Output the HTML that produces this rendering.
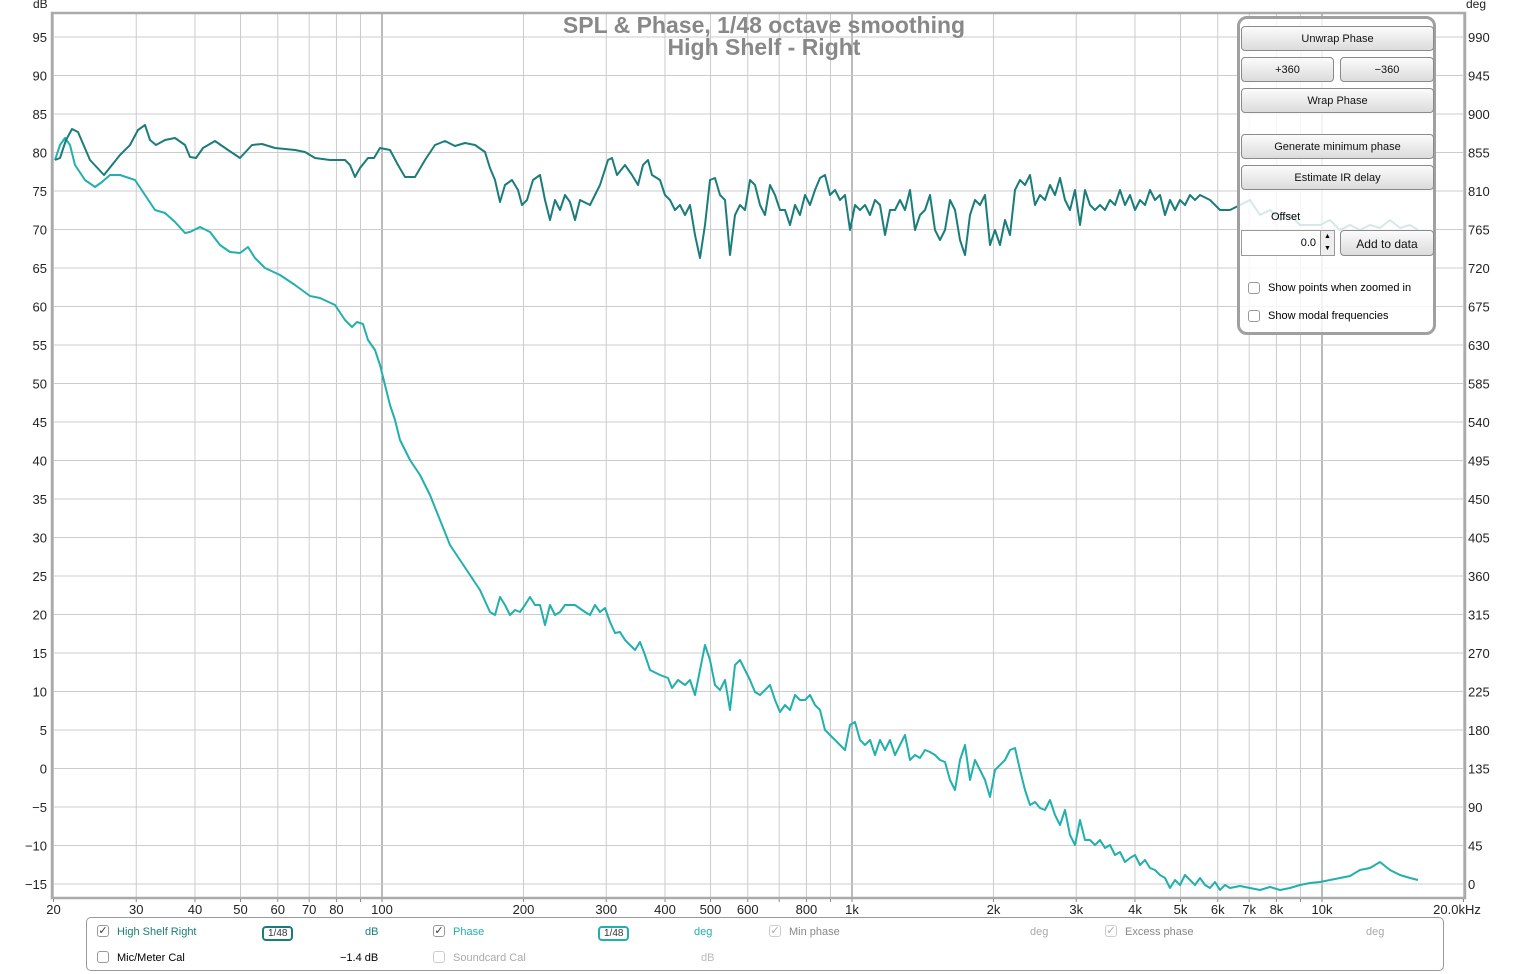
<!DOCTYPE html>
<html><head><meta charset="utf-8"><style>
body{margin:0;background:#fff;width:1530px;height:974px;overflow:hidden;font-family:"Liberation Sans",sans-serif;}
svg text{font-family:"Liberation Sans",sans-serif;}
.btn{position:absolute;background:linear-gradient(#fbfbfb,#dcdcdc);border:1px solid #8a8a8a;border-radius:4px;font-size:11px;text-align:center;color:#111;box-sizing:border-box;}
.cb{position:absolute;width:12px;height:12px;border:1px solid #999;border-radius:3px;background:#fff;box-sizing:border-box;font-size:11px;line-height:10px;text-align:center;color:#333}
.lt{position:absolute;font-size:11px;}
</style></head><body>
<svg id="s" width="1530" height="974" style="position:absolute;left:0;top:0"></svg>
<div style="position:absolute;left:1237px;top:16px;width:199px;height:319px;border:3px solid #a0a0a0;border-radius:10px;background:rgba(255,255,255,0.82);box-sizing:border-box"></div>
<div class="btn" style="left:1241px;top:26px;width:193px;height:25px;line-height:25px">Unwrap Phase</div>
<div class="btn" style="left:1241px;top:57px;width:93px;height:25px;line-height:25px">+360</div>
<div class="btn" style="left:1340px;top:57px;width:94px;height:25px;line-height:25px">−360</div>
<div class="btn" style="left:1241px;top:88px;width:193px;height:25px;line-height:25px">Wrap Phase</div>
<div class="btn" style="left:1241px;top:134px;width:193px;height:25px;line-height:25px">Generate minimum phase</div>
<div class="btn" style="left:1241px;top:165px;width:193px;height:25px;line-height:25px">Estimate IR delay</div>
<div class="lt" style="left:1271px;top:211px">Offset</div>
<div style="position:absolute;left:1241px;top:230px;width:94px;height:26px;border:1px solid #999;background:#fff;box-sizing:border-box;font-size:11px;line-height:24px;text-align:right;padding-right:18px">0.0</div>
<div style="position:absolute;left:1320px;top:230px;width:15px;height:26px;border:1px solid #999;background:#eee;box-sizing:border-box;font-size:7px;text-align:center;line-height:12px">▲<br>▼</div>
<div class="btn" style="left:1340px;top:230px;width:94px;height:26px;line-height:26px;font-size:12px">Add to data</div>
<div class="cb" style="left:1248px;top:282px"></div><div class="lt" style="left:1268px;top:282px">Show points when zoomed in</div>
<div class="cb" style="left:1248px;top:310px"></div><div class="lt" style="left:1268px;top:310px">Show modal frequencies</div>
<div style="position:absolute;left:86px;top:917px;width:1358px;height:54px;border:1px solid #999;border-radius:5px;box-sizing:border-box"></div>
<div class="cb" style="left:97px;top:925px">✓</div><div class="lt" style="left:117px;top:926px;color:#1a7d7a">High Shelf Right</div>
<div class="lt" style="left:262px;top:926px;border:2px solid #1a7d7a;border-radius:4px;padding:0 4px;font-size:10px;color:#333">1/48</div>
<div class="lt" style="left:365px;top:926px;color:#1a7d7a">dB</div>
<div class="cb" style="left:433px;top:925px">✓</div><div class="lt" style="left:453px;top:926px;color:#22b0ad">Phase</div>
<div class="lt" style="left:598px;top:926px;border:2px solid #22b0ad;border-radius:4px;padding:0 4px;font-size:10px;color:#333">1/48</div>
<div class="lt" style="left:694px;top:926px;color:#22b0ad">deg</div>
<div class="cb" style="left:769px;top:925px;color:#aaa;border-color:#ccc">✓</div><div class="lt" style="left:789px;top:926px;color:#888">Min phase</div>
<div class="lt" style="left:1030px;top:926px;color:#aaa">deg</div>
<div class="cb" style="left:1105px;top:925px;color:#aaa;border-color:#ccc">✓</div><div class="lt" style="left:1125px;top:926px;color:#888">Excess phase</div>
<div class="lt" style="left:1366px;top:926px;color:#aaa">deg</div>
<div class="cb" style="left:97px;top:951px"></div><div class="lt" style="left:117px;top:952px">Mic/Meter Cal</div>
<div class="lt" style="left:340px;top:952px">−1.4 dB</div>
<div class="cb" style="left:433px;top:951px;border-color:#ccc"></div><div class="lt" style="left:453px;top:952px;color:#aaa">Soundcard Cal</div>
<div class="lt" style="left:701px;top:952px;color:#bbb">dB</div>
<script>
var s=document.getElementById('s'),h='';
function X(f){return 852+470*Math.log10(f/1000);}
function Y(d){return 884-(d+15)*847/110;}
var L=52,R=1465,T=13,B=898;
h+='<rect x="'+L+'" y="'+T+'" width="'+(R-L)+'" height="'+(B-T)+'" fill="#fff"/>';
var fs=[];for(var d=10;d<=10000;d*=10)for(var k=1;k<10;k++){var f=d*k;if(f>=20&&f<=20000)fs.push(f);}fs.push(20000);
fs.forEach(function(f){var x=X(f),dk=(f==100||f==1000||f==10000);h+='<line x1="'+x+'" x2="'+x+'" y1="'+T+'" y2="'+B+'" stroke="'+(dk?'#777':'#ccc')+'" stroke-width="1"/>';h+='<line x1="'+x+'" x2="'+x+'" y1="'+B+'" y2="'+(B+4)+'" stroke="#888"/>';});
for(var v=-15;v<=95;v+=5){var y=Y(v);h+='<line x1="'+L+'" x2="'+R+'" y1="'+y+'" y2="'+y+'" stroke="#ccc"/>';
h+='<text x="47" y="'+(y+5)+'" font-size="13" text-anchor="end" fill="#222">'+(v<0?'−'+(-v):v)+'</text>';
h+='<text x="1468" y="'+(y+5)+'" font-size="13" fill="#222">'+((v+15)*9)+'</text>';}
h+='<text x="33" y="8" font-size="12" fill="#222">dB</text><text x="1466" y="8" font-size="12" fill="#222">deg</text>';
h+='<rect x="'+L+'" y="'+T+'" width="'+(R-L)+'" height="'+(B-T)+'" fill="none" stroke="#aaa" stroke-width="2.5"/>';
[[20,'20'],[30,'30'],[40,'40'],[50,'50'],[60,'60'],[70,'70'],[80,'80'],[100,'100'],[200,'200'],[300,'300'],[400,'400'],[500,'500'],[600,'600'],[800,'800'],[1000,'1k'],[2000,'2k'],[3000,'3k'],[4000,'4k'],[5000,'5k'],[6000,'6k'],[7000,'7k'],[8000,'8k'],[10000,'10k']].forEach(function(a){h+='<text x="'+X(a[0])+'" y="914" font-size="13" text-anchor="middle" fill="#222">'+a[1]+'</text>';});
h+='<text x="1457" y="914" font-size="13" text-anchor="middle" fill="#222">20.0kHz</text>';
h+='<text x="764" y="33" font-size="23" font-weight="bold" text-anchor="middle" fill="#888">SPL &amp; Phase, 1/48 octave smoothing</text>';
h+='<text x="764" y="55" font-size="23" font-weight="bold" text-anchor="middle" fill="#888">High Shelf - Right</text>';
var spl="55,160 60,158 66,140 72,129 78,132 90,160 104,175 112,165 120,155 130,145 138,130 145,125 150,140 156,145 165,140 175,138 185,145 190,157 196,158 203,148 215,141 228,150 240,158 252,145 262,144 275,148 295,150 305,152 315,158 330,160 345,160 350,165 355,177 360,168 368,158 374,158 380,148 390,150 398,165 405,177 415,177 425,160 435,145 445,141 455,146 465,143 475,145 485,152 490,168 495,180 500,202 505,185 512,180 518,190 522,205 527,200 533,180 540,175 545,200 550,220 555,200 560,210 565,195 570,202 575,220 580,200 590,205 600,185 608,160 612,158 617,175 625,165 632,175 638,185 643,165 648,160 652,175 660,180 665,195 670,200 675,210 680,205 685,215 690,205 695,235 700,258 705,225 710,180 715,178 720,195 725,200 730,255 735,215 740,205 745,210 750,180 755,185 760,205 765,215 770,185 775,195 780,210 785,210 790,225 795,205 800,215 805,195 810,205 815,190 820,178 825,175 830,195 835,190 840,200 845,195 850,230 855,205 860,210 865,205 870,215 875,200 880,205 885,235 890,210 895,210 900,200 905,210 910,190 915,230 920,215 925,210 930,195 935,230 940,240 945,230 950,200 955,210 960,240 965,255 970,215 975,200 980,205 985,195 990,245 995,230 1000,245 1005,220 1010,235 1015,190 1020,180 1025,185 1030,175 1035,205 1040,195 1045,200 1050,185 1055,195 1060,178 1065,200 1070,210 1075,190 1080,225 1085,190 1090,205 1095,210 1100,205 1105,210 1110,200 1115,205 1120,190 1125,205 1130,195 1135,210 1140,200 1145,205 1150,190 1155,200 1160,195 1165,215 1170,200 1175,210 1180,200 1185,205 1190,195 1195,200 1200,195 1210,200 1220,210 1230,210 1240,205 1250,200 1260,215 1270,210 1280,220 1290,215 1300,225 1310,225 1320,225 1330,220 1340,230 1350,225 1360,230 1370,225 1380,228 1390,220 1400,228 1410,225 1418,230";
var ph="55,160 60,145 65,138 70,145 75,165 85,180 95,187 102,182 110,175 120,175 135,180 145,195 155,210 165,213 175,222 185,233 190,232 200,227 210,232 220,245 230,252 240,253 248,247 255,258 265,268 280,275 295,285 310,296 320,298 335,305 345,320 352,327 357,322 363,324 368,340 375,350 380,365 385,385 390,405 395,420 400,440 405,450 410,460 420,475 430,495 440,520 450,545 460,560 470,575 480,590 490,612 495,615 500,597 505,605 510,615 515,610 520,612 525,605 530,597 535,605 540,605 545,625 550,605 555,615 560,612 565,605 575,605 585,612 590,615 595,605 600,612 605,608 610,622 615,633 620,632 625,640 630,645 635,650 640,642 645,655 650,670 660,675 668,678 672,688 678,680 685,685 690,680 695,695 700,670 705,645 710,660 715,685 720,690 725,680 730,710 735,665 740,660 745,670 750,680 755,692 760,695 765,690 770,685 775,700 780,712 785,705 790,710 795,695 800,700 805,700 810,695 815,705 820,710 825,730 835,740 840,745 845,750 850,725 855,722 860,740 865,745 870,740 875,755 880,740 885,750 890,740 895,755 900,745 905,735 910,760 915,755 920,758 925,750 930,752 935,755 940,760 945,762 950,780 955,790 960,760 965,745 970,780 975,760 980,770 985,780 990,797 995,770 1000,765 1005,760 1010,750 1015,748 1020,770 1025,790 1030,805 1035,802 1040,808 1045,810 1050,800 1055,815 1060,825 1065,810 1070,835 1075,845 1080,820 1085,840 1090,840 1095,845 1100,840 1105,848 1110,845 1115,855 1120,852 1125,862 1130,858 1135,855 1140,865 1145,860 1150,868 1155,870 1160,875 1165,878 1170,888 1175,880 1180,885 1185,875 1190,880 1195,885 1200,878 1205,885 1210,888 1215,882 1220,890 1225,885 1230,888 1240,886 1250,888 1260,890 1270,887 1280,890 1290,888 1300,885 1310,883 1320,882 1330,880 1340,878 1350,876 1360,870 1370,868 1380,862 1390,870 1400,875 1410,878 1418,880";
h+='<polyline points="'+ph+'" fill="none" stroke="#22b0ad" stroke-width="2" stroke-linejoin="round"/>';
h+='<polyline points="'+spl+'" fill="none" stroke="#1a7d7a" stroke-width="2" stroke-linejoin="round"/>';
s.innerHTML=h;
</script>
</body></html>
